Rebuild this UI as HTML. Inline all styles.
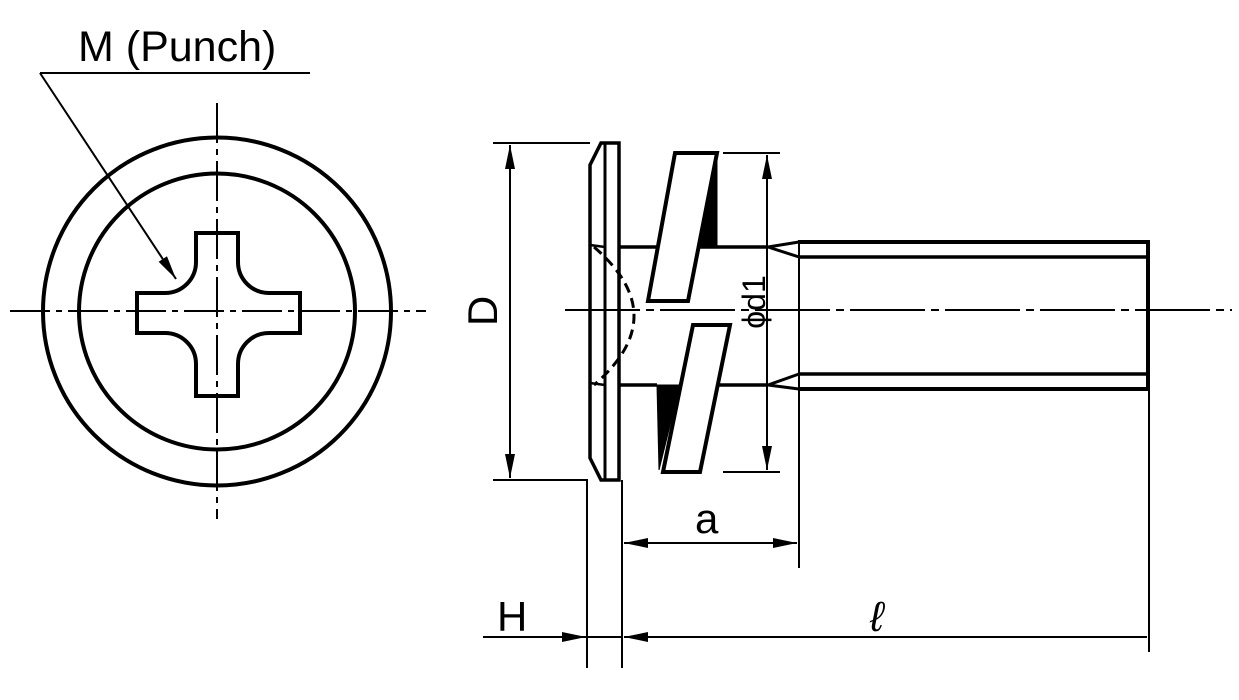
<!DOCTYPE html>
<html><head><meta charset="utf-8"><style>
html,body{margin:0;padding:0;background:#fff;}
svg{display:block;}
text{font-family:"Liberation Sans",sans-serif;fill:#000;}
</style></head><body>
<svg width="1239" height="700" viewBox="0 0 1239 700" xmlns="http://www.w3.org/2000/svg">
<defs>
<marker id="ar" viewBox="0 0 24 10" refX="24" refY="5" markerWidth="24" markerHeight="10" markerUnits="userSpaceOnUse" orient="auto-start-reverse">
<path d="M0,0 L24,5 L0,10 Z" fill="#000"/>
</marker>
</defs>
<g fill="none" stroke="#000">
<circle cx="217" cy="311.5" r="174" stroke-width="4"/>
<circle cx="217" cy="311.5" r="138" stroke-width="4"/>
<path d="M196,233 H238 V262 A31,31 0 0 0 269,293 H300 V333 H269 A31,31 0 0 0 238,364 V396 H196 V364 A31,31 0 0 0 165,333 H137 V293 H165 A31,31 0 0 0 196,262 Z" stroke-width="4"/>
<line x1="10" y1="311" x2="426" y2="311" stroke-width="2" stroke-dasharray="40,6,6,6"/>
<line x1="217" y1="103" x2="217" y2="519" stroke-width="2" stroke-dasharray="40,6,6,6"/>
<line x1="40" y1="73" x2="310" y2="73" stroke-width="2"/>
<line x1="40" y1="73" x2="176" y2="279" stroke-width="2" marker-end="url(#ar)"/>

<line x1="565" y1="310" x2="1232" y2="310" stroke-width="2" stroke-dasharray="75,6,8,6"/>

<path d="M601,143 H619 V480 H601 L590,458 V165 Z" stroke-width="3.5"/>
<line x1="605" y1="143" x2="605" y2="480" stroke-width="3"/>
<line x1="590" y1="245" x2="605" y2="247" stroke-width="2.5"/>
<line x1="590" y1="383" x2="605" y2="385" stroke-width="2.5"/>
<path d="M594,247 Q674,316 594,385" stroke-width="3" stroke-dasharray="10,6"/>

<line x1="619" y1="247" x2="657" y2="247" stroke-width="3.5"/>
<line x1="700" y1="247" x2="768" y2="247" stroke-width="3.5"/>
<line x1="619" y1="385" x2="657" y2="385" stroke-width="3.5"/>
<line x1="700" y1="385" x2="768" y2="385" stroke-width="3.5"/>
<path d="M799,242 L768,247 L799,257" stroke-width="3"/>
<path d="M799,374 L768,385 L799,389" stroke-width="3"/>

<path d="M717,153 L717,245 L698,245 Z" fill="#000" stroke-width="1"/>
<path d="M675,153 H717 L688,301 H648 Z" fill="#fff" stroke-width="4"/>
<path d="M657,385 L680,385 L659,470 Z" fill="#000" stroke-width="1"/>
<path d="M693,325 H730 L700,472 H663 Z" fill="#fff" stroke-width="4"/>

<path d="M799,242 H1148 V389 H799" stroke-width="4"/>
<line x1="799" y1="257" x2="1148" y2="257" stroke-width="3.5"/>
<line x1="799" y1="374" x2="1148" y2="374" stroke-width="3.5"/>
<line x1="799" y1="240" x2="799" y2="568" stroke-width="2"/>
<line x1="1149" y1="389" x2="1149" y2="652" stroke-width="2"/>

<line x1="493" y1="143" x2="590" y2="143" stroke-width="2"/>
<path d="M493,480 H587 V668" stroke-width="2"/>
<line x1="510" y1="145" x2="510" y2="478" stroke-width="2" marker-start="url(#ar)" marker-end="url(#ar)"/>
<line x1="622" y1="480" x2="622" y2="668" stroke-width="2"/>

<line x1="723" y1="153" x2="780" y2="153" stroke-width="2"/>
<line x1="723" y1="472" x2="780" y2="472" stroke-width="2"/>
<line x1="767" y1="155" x2="767" y2="470" stroke-width="2" marker-start="url(#ar)" marker-end="url(#ar)"/>

<line x1="624" y1="543" x2="797" y2="543" stroke-width="2" marker-start="url(#ar)" marker-end="url(#ar)"/>

<line x1="483" y1="637" x2="586" y2="637" stroke-width="2" marker-end="url(#ar)"/>
<line x1="587" y1="637" x2="622" y2="637" stroke-width="2"/>
<line x1="1147" y1="637" x2="624" y2="637" stroke-width="2" marker-end="url(#ar)"/>
</g>
<text x="78" y="61" font-size="43">M (Punch)</text>
<text x="695" y="533" font-size="42">a</text>
<text x="497" y="631" font-size="42">H</text>
<text x="870" y="631" font-size="42" font-style="italic">ℓ</text>
<text transform="translate(497,311) rotate(-90)" font-size="42" text-anchor="middle">D</text>
<text transform="translate(765,302) rotate(-90)" font-size="32" text-anchor="middle">ϕd1</text>
</svg>
</body></html>
